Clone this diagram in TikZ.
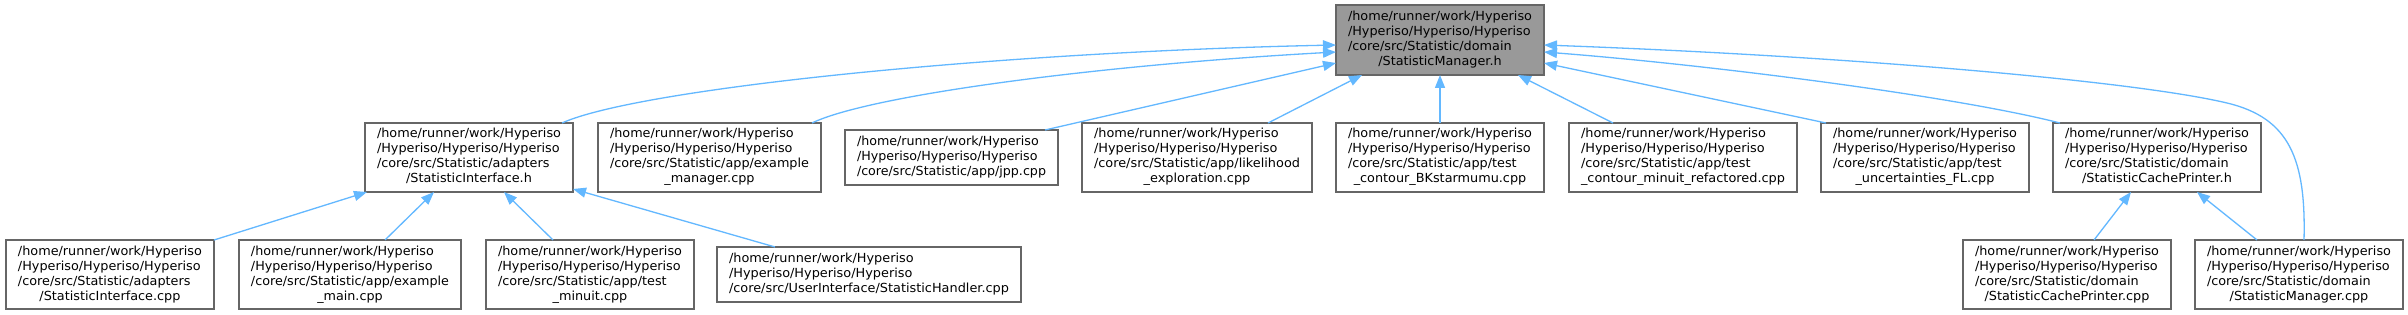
\documentclass[tikz,border=0pt]{standalone}
\usepackage{fontspec}
\setmainfont{DejaVu Sans}
\usepackage{graphicx}
\usetikzlibrary{arrows.meta,calc}
\definecolor{edgeblue}{HTML}{63B8FF}
\definecolor{boxline}{HTML}{666666}
\definecolor{topfill}{HTML}{999999}
\newcommand\lbl[3]{\resizebox{#1}{\height}{\begin{tabular}{@{}l@{}}#2\\\multicolumn{1}{@{}c@{}}{#3}\end{tabular}}}
\begin{document}
\begin{tikzpicture}[x=1pt,y=-1pt,
  box/.style={draw=boxline, fill=white, line width=1.4pt, inner sep=0pt, outer sep=0pt,
    font=\fontsize{12.5}{15}\selectfont},
  edge/.style={draw=edgeblue, line width=1.3pt, -{Triangle[length=13pt,width=10pt]}}]
\useasboundingbox (0,0) rectangle (2408,315);
\fill[white] (0,0) rectangle (2408,315);
% top
\node[box, fill=topfill, minimum width=208pt, minimum height=70pt] (top) at (1440,40)
  {\lbl{184pt}{/home/runner/work/Hyperiso\\/Hyperiso/Hyperiso/Hyperiso\\/core/src/Statistic/domain}{/StatisticManager.h}};
% row 2
\node[box, minimum width=208pt, minimum height=69pt] (SIh) at (469,157.5)
  {\lbl{184pt}{/home/runner/work/Hyperiso\\/Hyperiso/Hyperiso/Hyperiso\\/core/src/Statistic/adapters}{/StatisticInterface.h}};
\node[box, minimum width=223pt, minimum height=69pt] (exman) at (709.5,157.5)
  {\lbl{199pt}{/home/runner/work/Hyperiso\\/Hyperiso/Hyperiso/Hyperiso\\/core/src/Statistic/app/example}{\_manager.cpp}};
\node[box, minimum width=213pt, minimum height=55pt] (jpp) at (951.5,157.5)
  {\lbl{189pt}{/home/runner/work/Hyperiso\\/Hyperiso/Hyperiso/Hyperiso}{/core/src/Statistic/app/jpp.cpp}};
\node[box, minimum width=230pt, minimum height=69pt] (lik) at (1197,157.5)
  {\lbl{206pt}{/home/runner/work/Hyperiso\\/Hyperiso/Hyperiso/Hyperiso\\/core/src/Statistic/app/likelihood}{\_exploration.cpp}};
\node[box, minimum width=208pt, minimum height=69pt] (bk) at (1440,157.5)
  {\lbl{184pt}{/home/runner/work/Hyperiso\\/Hyperiso/Hyperiso/Hyperiso\\/core/src/Statistic/app/test}{\_contour\_BKstarmumu.cpp}};
\node[box, minimum width=228pt, minimum height=69pt] (cmr) at (1683,157.5)
  {\lbl{204pt}{/home/runner/work/Hyperiso\\/Hyperiso/Hyperiso/Hyperiso\\/core/src/Statistic/app/test}{\_contour\_minuit\_refactored.cpp}};
\node[box, minimum width=208pt, minimum height=69pt] (ufl) at (1925,157.5)
  {\lbl{184pt}{/home/runner/work/Hyperiso\\/Hyperiso/Hyperiso/Hyperiso\\/core/src/Statistic/app/test}{\_uncertainties\_FL.cpp}};
\node[box, minimum width=208pt, minimum height=69pt] (scph) at (2157,157.5)
  {\lbl{184pt}{/home/runner/work/Hyperiso\\/Hyperiso/Hyperiso/Hyperiso\\/core/src/Statistic/domain}{/StatisticCachePrinter.h}};
% row 3
\node[box, minimum width=208pt, minimum height=69pt] (sicpp) at (110,274.5)
  {\lbl{184pt}{/home/runner/work/Hyperiso\\/Hyperiso/Hyperiso/Hyperiso\\/core/src/Statistic/adapters}{/StatisticInterface.cpp}};
\node[box, minimum width=222pt, minimum height=69pt] (exmain) at (350,274.5)
  {\lbl{198pt}{/home/runner/work/Hyperiso\\/Hyperiso/Hyperiso/Hyperiso\\/core/src/Statistic/app/example}{\_main.cpp}};
\node[box, minimum width=208pt, minimum height=69pt] (tmin) at (590,274.5)
  {\lbl{184pt}{/home/runner/work/Hyperiso\\/Hyperiso/Hyperiso/Hyperiso\\/core/src/Statistic/app/test}{\_minuit.cpp}};
\node[box, minimum width=304pt, minimum height=55pt] (sh) at (869,274.5)
  {\lbl{280pt}{/home/runner/work/Hyperiso\\/Hyperiso/Hyperiso/Hyperiso}{/core/src/UserInterface/StatisticHandler.cpp}};
\node[box, minimum width=208pt, minimum height=69pt] (scpcpp) at (2067,274.5)
  {\lbl{184pt}{/home/runner/work/Hyperiso\\/Hyperiso/Hyperiso/Hyperiso\\/core/src/Statistic/domain}{/StatisticCachePrinter.cpp}};
\node[box, minimum width=208pt, minimum height=69pt] (smcpp) at (2299,274.5)
  {\lbl{184pt}{/home/runner/work/Hyperiso\\/Hyperiso/Hyperiso/Hyperiso\\/core/src/Statistic/domain}{/StatisticManager.cpp}};
% edges into top
\draw[edge] ($(SIh.north east)+(-11,0)$) .. controls (640,88) and (1000,52) .. ($(top.north west)+(0,40)$);
\draw[edge] ($(exman.north east)+(-9,0)$) .. controls (870,95) and (1100,65) .. ($(top.north west)+(0,47)$);
\draw[edge] ($(jpp.north east)+(-13,0)$) -- ($(top.north west)+(0,58)$);
\draw[edge] ($(lik.north east)+(-44,0)$) -- ($(top.south west)+(26,0)$);
\draw[edge] (bk.north) -- (top.south);
\draw[edge] ($(cmr.north west)+(44,0)$) -- ($(top.south east)+(-26,0)$);
\draw[edge] ($(ufl.north west)+(5,0)$) -- ($(top.north east)+(0,58)$);
\draw[edge] ($(scph.north west)+(7,0)$) .. controls (1950,95) and (1700,64) .. ($(top.north east)+(0,47)$);
\draw[edge] ($(smcpp.north)+(5,0)$) .. controls (2306,160) and (2290,118) .. (2227,103)
  .. controls (2132,80.5) and (1844,56) .. ($(top.north east)+(0,40)$);
% edges into StatisticInterface.h
\draw[edge] (sicpp.north east) -- ($(SIh.south west)+(2,0)$);
\draw[edge] ($(exmain.north west)+(146,0)$) -- ($(SIh.south west)+(69,0)$);
\draw[edge] ($(tmin.north west)+(67,0)$) -- ($(SIh.south west)+(139,0)$);
\draw[edge] ($(sh.north west)+(58,0)$) -- ($(SIh.south east)+(0,-3)$);
% edges into StatisticCachePrinter.h
\draw[edge] ($(scpcpp.north west)+(131,0)$) -- ($(scph.south west)+(78,0)$);
\draw[edge] ($(smcpp.north west)+(62,0)$) -- ($(scph.south west)+(144,0)$);
\end{tikzpicture}
\end{document}
